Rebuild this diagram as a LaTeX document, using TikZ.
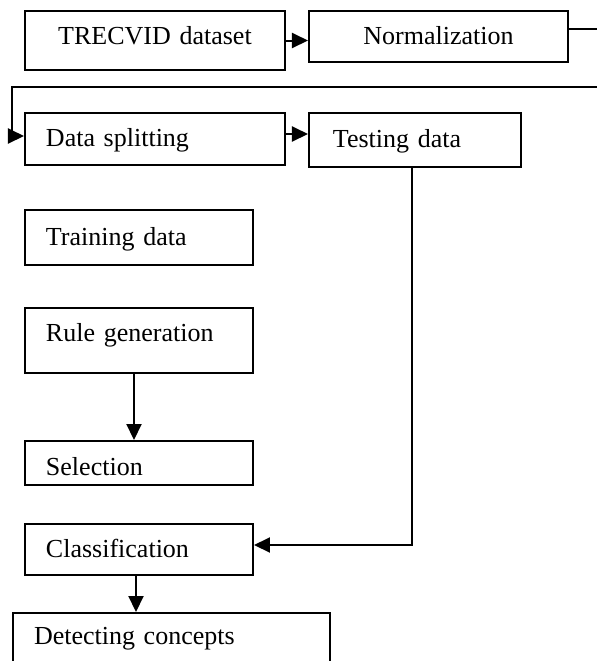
\documentclass[tikz,border=0pt]{standalone}
\usepackage{fontspec}
\setmainfont{Liberation Serif}
\usepackage{tikz}
\usetikzlibrary{positioning,arrows.meta}

\tikzset{
  stage/.style={draw=drawColor, line width=1pt, rectangle, anchor=north west,
    inner xsep=10.5pt, inner ysep=0pt, text height=10pt, text depth=2.5pt,
    align=left, font=\fontsize{13pt}{15pt}\selectfont},
  flow/.style={draw=drawColor, line width=1pt, -{Triangle[length=8pt,width=7.5pt]}},
  link/.style={draw=drawColor, line width=1pt}
}

\begin{document}
\begin{tikzpicture}[x=0.5pt,y=-0.5pt]
\definecolor{drawColor}{RGB}{0,0,0}
\path[use as bounding box] (0,0) rectangle (597,661);
\clip (0,0) rectangle (597,661);

\node[stage, text width=109pt, align=center, minimum height=29.5pt, text depth=6.5pt] (trec) at (24,10) {TRECVID dataset};
\node[stage, text width=108.5pt, align=center, minimum height=25.5pt] (norm) at (308,10) {Normalization};

\node[stage, text width=109pt, minimum height=26pt] (split) at (24,112) {Data splitting};
\node[stage, text width=82pt, inner xsep=12pt, minimum height=27pt] (test) at (308,112) {Testing data};

\node[stage, text width=93pt, minimum height=27.5pt] (train) at (24,209) {Training data};
\node[stage, text width=93pt, minimum height=32.5pt, text depth=9.5pt] (rule) at (24,307) {Rule generation};
\node[stage, text width=93pt, minimum height=22pt, text height=14pt, text depth=2pt] (sel) at (24,440) {Selection};
\node[stage, text width=93pt, minimum height=25.5pt] (class) at (24,523) {Classification};
\node[stage, text width=137.5pt, minimum height=40pt, text depth=19pt] (detect) at (12,612) {Detecting concepts};

\coordinate (turn) at (620,87);

\draw[flow] (trec.east) -- (trec.east -| norm.west);
\draw[flow] ([yshift=3.75pt]norm.east) -| (turn) -| ([xshift=-6pt,yshift=1.5pt]split.west) -- ([yshift=1.5pt]split.west);
\draw[flow] ([yshift=2.5pt]split.east) -- ([yshift=2.5pt]split.east -| test.west);
\draw[flow] ([xshift=-1.5pt]test.south) |- ([yshift=2.25pt]class.east);
\draw[flow] ([xshift=-2.5pt]rule.south) -- ([xshift=-2.5pt]rule.south |- sel.north);
\draw[flow] ([xshift=-1.5pt]class.south) -- ([xshift=-1.5pt]class.south |- detect.north);
\end{tikzpicture}
\end{document}
